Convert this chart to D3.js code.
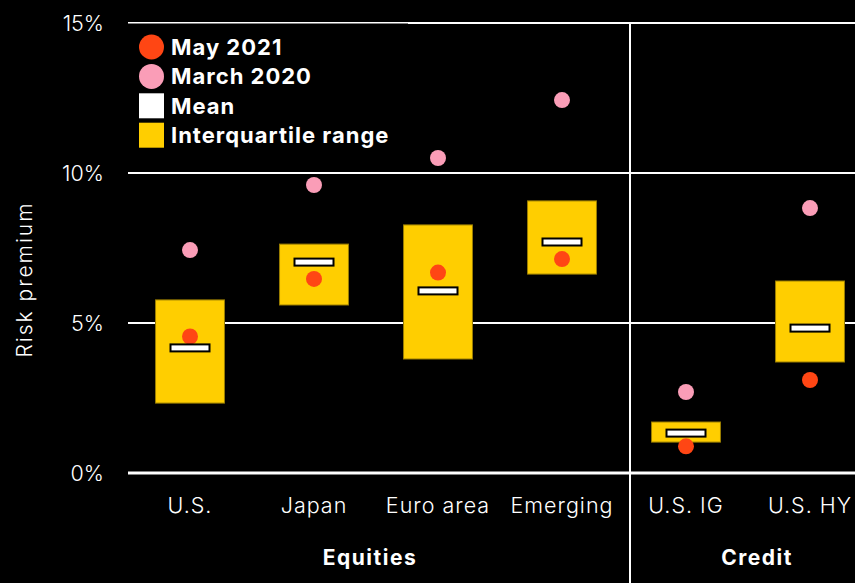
<!DOCTYPE html>
<html>
<head>
<meta charset="utf-8">
<script src="https://cdn.jsdelivr.net/npm/d3@7/dist/d3.min.js"></script>
<style>
  html, body { margin: 0; padding: 0; background: #000; }
  svg { display: block; }
  text { font-family: Inter, "Noto Sans", sans-serif; fill: #fff; }
</style>
</head>
<body>
<div id="chart"></div>
<script>
// ---- Data ----
const categories = ["U.S.", "Japan", "Euro area", "Emerging", "U.S. IG", "U.S. HY"];
const groups = ["Equities", "Equities", "Equities", "Equities", "Credit", "Credit"];
const iqrLow  = [2.33, 5.6, 3.8, 6.63, 1.03, 3.7];
const iqrHigh = [5.77, 7.63, 8.27, 9.07, 1.7, 6.4];
const meanVal = [4.17, 7.03, 6.07, 7.7, 1.33, 4.83];
const may2021 = [4.55, 6.47, 6.68, 7.13, 0.89, 3.1];
const march2020 = [7.43, 9.6, 10.5, 12.43, 2.7, 8.83];
const yTicks = [0, 5, 10, 15];
const legendItems = [
  { label: "May 2021", type: "circle", key: "may" },
  { label: "March 2020", type: "circle", key: "mar" },
  { label: "Mean", type: "square", key: "mean" },
  { label: "Interquartile range", type: "square", key: "iqr" }
];

const colors = { may: "#ff4614", mar: "#fa9db7", mean: "#ffffff", iqr: "#ffce00" };

const W = 855, H = 583;
const svg = d3.select("#chart").append("svg").attr("width", W).attr("height", H);
svg.append("rect").attr("width", W).attr("height", H).attr("fill", "#000");

const x = d3.scaleBand().domain(categories).range([128, 872]).paddingInner(0.444).paddingOuter(0.222);
const y = d3.scaleLinear().domain([0, 15]).range([473, 23]);

// gridlines
svg.append("g").selectAll("line").data(yTicks).join("line")
  .attr("x1", 128).attr("x2", W)
  .attr("y1", d => y(d)).attr("y2", d => y(d))
  .attr("stroke", "#fff")
  .attr("stroke-width", d => d === 0 ? 3 : 2);

// tick labels
svg.append("g").selectAll("text").data(yTicks).join("text")
  .attr("x", 104).attr("y", d => y(d))
  .attr("dy", "0.36em")
  .attr("text-anchor", "end")
  .attr("font-size", 21.5).attr("font-weight", 300)
  .text(d => d + "%");

// y-axis title
svg.append("text")
  .attr("transform", `translate(32,${y(6.45)}) rotate(-90)`)
  .attr("text-anchor", "middle")
  .attr("font-size", 21).attr("font-weight", 300)
  .attr("letter-spacing", 2)
  .text("Risk premium");

// divider
const divX = (x("Emerging") + x.bandwidth() + x("U.S. IG")) / 2 + 6;
svg.append("line").attr("x1", divX).attr("x2", divX).attr("y1", y(15) - 1).attr("y2", H)
  .attr("stroke", "#fff").attr("stroke-width", 2);

// legend background
svg.append("rect").attr("x", 128).attr("y", y(15) + 0.5).attr("width", 280).attr("height", 128).attr("fill", "#000");

const data = categories.map((c, i) => ({
  c, lo: iqrLow[i], hi: iqrHigh[i], mean: meanVal[i], may: may2021[i], mar: march2020[i]
}));

// IQR boxes
svg.append("g").selectAll("rect").data(data).join("rect")
  .attr("x", d => x(d.c)).attr("width", x.bandwidth())
  .attr("y", d => y(d.hi)).attr("height", d => y(d.lo) - y(d.hi))
  .attr("fill", colors.iqr).attr("stroke", "#9a7d00").attr("stroke-width", 1);

// March 2020 dots
svg.append("g").selectAll("circle").data(data).join("circle")
  .attr("cx", d => x(d.c) + x.bandwidth() / 2).attr("cy", d => y(d.mar)).attr("r", 8)
  .attr("fill", colors.mar);

// May 2021 dots
svg.append("g").selectAll("circle").data(data).join("circle")
  .attr("cx", d => x(d.c) + x.bandwidth() / 2).attr("cy", d => y(d.may)).attr("r", 8)
  .attr("fill", colors.may);

// mean markers
const mw = 39, mh = 7;
svg.append("g").selectAll("rect").data(data).join("rect")
  .attr("x", d => x(d.c) + x.bandwidth() / 2 - mw / 2).attr("width", mw)
  .attr("y", d => y(d.mean) - mh / 2).attr("height", mh)
  .attr("fill", colors.mean).attr("stroke", "#000").attr("stroke-width", 2);

// category labels
svg.append("g").selectAll("text").data(categories).join("text")
  .attr("x", d => x(d) + x.bandwidth() / 2).attr("y", 513)
  .attr("text-anchor", "middle").attr("font-size", 21.5).attr("font-weight", 300)
  .attr("letter-spacing", 1)
  .text(d => d);

// group labels
const groupNames = Array.from(new Set(groups));
const groupShift = { "Equities": -6, "Credit": 9 };
svg.append("g").selectAll("text").data(groupNames).join("text")
  .attr("x", g => {
    const cs = categories.filter((c, i) => groups[i] === g);
    return d3.mean(cs, c => x(c) + x.bandwidth() / 2) + groupShift[g];
  })
  .attr("y", 565)
  .attr("text-anchor", "middle").attr("font-size", 21).attr("font-weight", 700)
  .attr("letter-spacing", 1.5)
  .text(g => g);

// legend
const lg = svg.append("g");
const rowY = i => 47 + i * 29.4;
legendItems.forEach((it, i) => {
  if (it.type === "circle") {
    lg.append("circle").attr("cx", 151.5).attr("cy", rowY(i)).attr("r", 12.5).attr("fill", colors[it.key]);
  } else {
    lg.append("rect").attr("x", 139).attr("y", rowY(i) - 12.5).attr("width", 25).attr("height", 25).attr("fill", colors[it.key]);
  }
  lg.append("text").attr("x", 171).attr("y", rowY(i)).attr("dy", "0.36em")
    .attr("font-size", 22).attr("font-weight", 700).attr("letter-spacing", 1)
    .text(it.label);
});
</script>
</body>
</html>
